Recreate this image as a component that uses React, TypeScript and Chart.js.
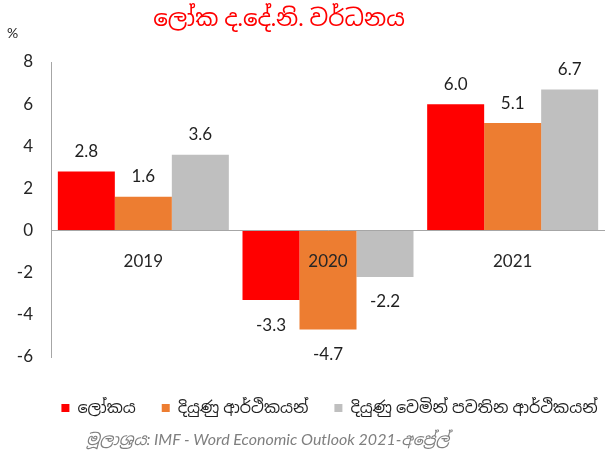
import React, { useEffect, useRef } from "react";
import { Chart, registerables } from "chart.js";

Chart.register(...registerables);

const TITLE = "ලෝක ද.දේ.නි. වර්ධනය";
const UNIT_LABEL = "%";
const SOURCE_LABEL = "මූලාශ්‍රය";
const SOURCE_TEXT = ": IMF - Word Economic Outlook 2021-";
const SOURCE_MONTH = "අප්‍රේල්";

const years = ["2019", "2020", "2021"];
const seriesNames = ["ලෝකය", "දියුණු ආර්ථිකයන්", "දියුණු වෙමින් පවතින ආර්ථිකයන්"];
const worldGrowth = [2.8, -3.3, 6.0];
const advancedGrowth = [1.6, -4.7, 5.1];
const emergingGrowth = [3.6, -2.2, 6.7];
const seriesColors = ["#ff0000", "#ed7d31", "#bfbfbf"];
const yMin = -6;
const yMax = 8;
const yStep = 2;

const FONT = "Lato, 'Noto Sans Sinhala', 'Noto Sans', sans-serif";

const valueLabels = {
  id: "valueLabels",
  afterDatasetsDraw(chart: any) {
    const ctx = chart.ctx;
    ctx.save();
    ctx.font = `17px ${FONT}`;
    ctx.fillStyle = "#1f1f1f";
    ctx.textAlign = "center";
    ctx.textBaseline = "middle";
    chart.data.datasets.forEach((ds: any, di: number) => {
      const meta = chart.getDatasetMeta(di);
      meta.data.forEach((bar: any, i: number) => {
        const v = ds.data[i] as number;
        const y = v >= 0 ? bar.y - 20 : bar.y + 25;
        ctx.fillText(v.toFixed(1), bar.x, y);
      });
    });
    ctx.restore();
  },
};

// nudge the legend so it is centred under the plot area, as in the original
const legendShift = {
  id: "legendShift",
  afterLayout(chart: any) {
    const lg = chart.legend;
    if (lg) {
      lg.left += 27;
      lg.right += 27;
    }
  },
};

export default function App() {
  const canvasRef = useRef<HTMLCanvasElement | null>(null);

  useEffect(() => {
    if (!canvasRef.current) return;
    const seriesValues = [worldGrowth, advancedGrowth, emergingGrowth];
    const chart = new Chart(canvasRef.current, {
      type: "bar",
      data: {
        labels: years,
        datasets: seriesValues.map((vals, i) => ({
          label: seriesNames[i],
          data: vals,
          backgroundColor: seriesColors[i],
          borderWidth: 0,
          barPercentage: 1,
          categoryPercentage: 0.926,
        })),
      },
      options: {
        responsive: false,
        animation: false,
        devicePixelRatio: 1,
        layout: { padding: { top: 62, left: 0, right: 0, bottom: 31 } },
        scales: {
          x: {
            position: { y: 0 } as any,
            grid: { display: false, drawTicks: false },
            border: { display: true, color: "#a6a6a6", width: 1, z: 1 } as any,
            ticks: {
              autoSkip: false,
              maxRotation: 0,
              color: "#262626",
              font: { family: FONT, size: 17 },
              padding: 21,
              z: 1,
            } as any,
          },
          y: {
            min: yMin,
            max: yMax,
            grid: { display: false, drawTicks: false },
            border: { display: true, color: "#a6a6a6", width: 1 },
            ticks: {
              stepSize: yStep,
              color: "#262626",
              font: { family: FONT, size: 17 },
              padding: 18,
            },
            afterFit(scale: any) {
              scale.width = 51;
            },
          },
        },
        plugins: {
          legend: {
            position: "bottom",
            title: {
              display: true,
              text: "",
              font: { size: 1, lineHeight: 1 },
              padding: { top: 16, bottom: 0 },
            },
            labels: {
              boxWidth: 8,
              boxHeight: 8,
              padding: 26,
              color: "#1f1f1f",
              font: { family: FONT, size: 16 },
            },
          },
          title: { display: false },
          tooltip: { enabled: false },
        },
      },
      plugins: [valueLabels, legendShift],
    });
    return () => chart.destroy();
  }, []);

  return (
    <div style={{ position: "absolute", left: 0, top: 0, width: 605, height: 457, background: "#fff", overflow: "hidden" }}>
      <canvas ref={canvasRef} width={605} height={457} style={{ position: "absolute", left: 0, top: 0 }} />
      <div
        style={{
          position: "absolute",
          left: 0,
          top: 3,
          width: 558,
          textAlign: "center",
          color: "#ff0000",
          fontFamily: FONT,
          fontSize: 23,
          lineHeight: "28px",
        }}
      >
        {TITLE}
      </div>
      <div
        style={{
          position: "absolute",
          left: 7,
          top: 24,
          color: "#262626",
          fontFamily: FONT,
          fontSize: 14,
          lineHeight: "18px",
        }}
      >
        {UNIT_LABEL}
      </div>
      <div
        style={{
          position: "absolute",
          left: 86,
          top: 429,
          color: "#7f7f7f",
          fontFamily: FONT,
          fontStyle: "italic",
          fontSize: 16,
          lineHeight: "20px",
          whiteSpace: "nowrap",
        }}
      >
        {SOURCE_LABEL + SOURCE_TEXT + SOURCE_MONTH}
      </div>
    </div>
  );
}
